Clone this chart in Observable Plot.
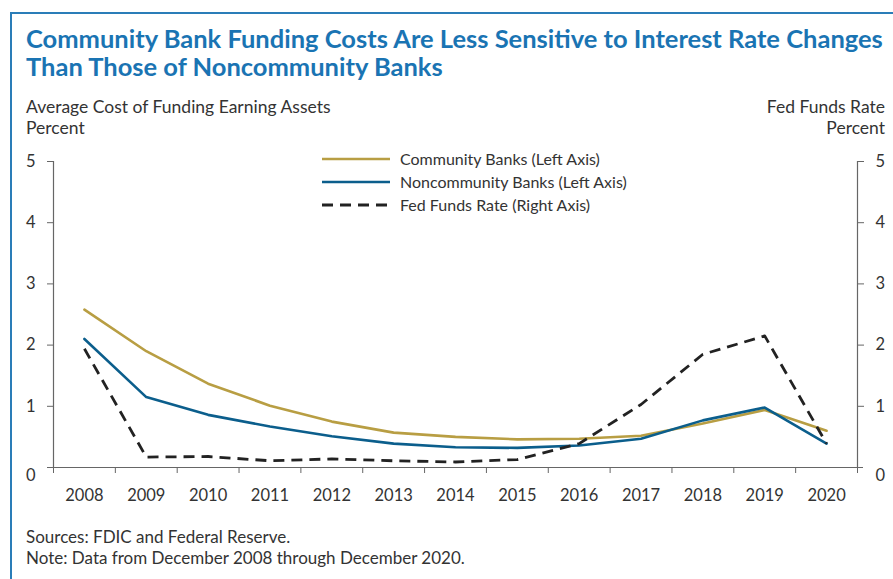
<!DOCTYPE html>
<html>
<head>
<meta charset="utf-8">
<script src="https://cdn.jsdelivr.net/npm/d3@7"></script>
<script src="https://cdn.jsdelivr.net/npm/@observablehq/plot@0.6"></script>
<style>
  html, body { margin: 0; padding: 0; background: #fff; }
  body { width: 893px; height: 579px; position: relative; overflow: hidden; font-family: Lato, "Open Sans", sans-serif; color: #333; }
  #frame { position: absolute; left: 10px; top: 12px; width: 900px; height: 600px; border-left: 2px solid #2a7db8; border-top: 2px solid #2a7db8; }
  #title { position: absolute; left: 26px; top: 24px; font-size: 25.5px; font-weight: 700; line-height: 28px; color: #1a74b3; white-space: nowrap; }
  .axlab { position: absolute; top: 96px; font-size: 17.5px; line-height: 21px; color: #333; white-space: nowrap; }
  #ylab-left { left: 26px; }
  #ylab-right { right: 8px; text-align: right; }
  #chart { position: absolute; left: 0; top: 140px; }
  #legend { position: absolute; left: 322px; top: 147px; font-size: 16px; line-height: 23px; color: #333; }
  #legend .row { display: flex; align-items: center; height: 23px; }
  #legend svg { margin-right: 10px; }
  #footer { position: absolute; left: 26px; top: 526px; font-size: 17px; line-height: 21px; color: #333; white-space: nowrap; }
</style>
</head>
<body>
<div id="frame"></div>
<div id="title"></div>
<div id="ylab-left" class="axlab"></div>
<div id="ylab-right" class="axlab"></div>
<div id="chart"></div>
<div id="legend"></div>
<div id="footer"></div>
<script>
// ---- Data ----
const years = [2008, 2009, 2010, 2011, 2012, 2013, 2014, 2015, 2016, 2017, 2018, 2019, 2020];
const community    = [2.58, 1.90, 1.37, 1.01, 0.75, 0.57, 0.50, 0.46, 0.47, 0.52, 0.72, 0.94, 0.60];
const noncommunity = [2.10, 1.15, 0.86, 0.67, 0.51, 0.39, 0.33, 0.32, 0.36, 0.47, 0.77, 0.98, 0.39];
const fedFunds     = [1.94, 0.17, 0.18, 0.11, 0.14, 0.11, 0.09, 0.13, 0.39, 1.03, 1.85, 2.15, 0.39];
const leftTicks  = [0, 1, 2, 3, 4, 5];
const rightTicks = [0, 1, 2, 3, 4, 5];
const seriesNames  = ["Community Banks (Left Axis)", "Noncommunity Banks (Left Axis)", "Fed Funds Rate (Right Axis)"];
const seriesColors = ["#b89e43", "#0b5e8c", "#222222"];
const titleLines = ["Community Bank Funding Costs Are Less Sensitive to Interest Rate Changes", "Than Those of Noncommunity Banks"];
const leftAxisTitle  = ["Average Cost of Funding Earning Assets", "Percent"];
const rightAxisTitle = ["Fed Funds Rate", "Percent"];
const footerLines = ["Sources: FDIC and Federal Reserve.", "Note: Data from December 2008 through December 2020."];

// ---- Text blocks ----
const setLines = (id, lines) => {
  const el = document.getElementById(id);
  lines.forEach((t, i) => { if (i) el.appendChild(document.createElement("br")); el.appendChild(document.createTextNode(t)); });
};
setLines("title", titleLines);
setLines("ylab-left", leftAxisTitle);
setLines("ylab-right", rightAxisTitle);
setLines("footer", footerLines);

// ---- Chart ----
const rows = vals => years.map((year, i) => ({year, value: vals[i]}));
const bounds = [years[0] - 0.5, years[years.length - 1] + 0.5];
const boundaryTicks = d3.range(bounds[0], bounds[1] + 0.001, 1);
const axisColor = "#666";
const dash = "11,7";
const fmt = d => String(d);

const chart = Plot.plot({
  width: 893,
  height: 375,
  marginTop: 21,
  marginBottom: 48,
  marginLeft: 53,
  marginRight: 36,
  style: {fontFamily: "Lato, 'Open Sans', sans-serif", fontSize: "16.5px", color: "#333", background: "transparent", overflow: "visible"},
  x: {domain: bounds, label: null},
  y: {domain: [leftTicks[0], leftTicks[leftTicks.length - 1]], label: null},
  marks: [
    Plot.ruleX(bounds, {y1: leftTicks[0], y2: leftTicks[leftTicks.length - 1], stroke: axisColor, strokeWidth: 1.2}),
    Plot.ruleY([0], {x1: bounds[0], x2: bounds[1], insetLeft: -6, insetRight: -6, stroke: axisColor, strokeWidth: 1.2}),
    Plot.axisX(boundaryTicks, {tickSize: 6, tickFormat: () => "", stroke: axisColor, label: null}),
    Plot.axisX(years, {tickSize: 0, tickPadding: 22, tickFormat: fmt, fill: "#333", label: null}),
    Plot.axisY(leftTicks.filter(d => d > 0), {anchor: "left", tickSize: 6, tickPadding: 12, tickFormat: fmt, stroke: axisColor, fill: "#333", label: null}),
    Plot.axisY(leftTicks.filter(d => d === 0), {anchor: "left", tickSize: 0, tickPadding: 18, tickFormat: fmt, dy: 8, fill: "#333", label: null}),
    Plot.axisY(rightTicks.filter(d => d > 0), {anchor: "right", tickSize: 6, tickPadding: 12, tickFormat: fmt, stroke: axisColor, fill: "#333", label: null}),
    Plot.axisY(rightTicks.filter(d => d === 0), {anchor: "right", tickSize: 0, tickPadding: 18, tickFormat: fmt, dy: 8, fill: "#333", label: null}),
    Plot.lineY(rows(community), {x: "year", y: "value", stroke: seriesColors[0], strokeWidth: 2.6}),
    Plot.lineY(rows(noncommunity), {x: "year", y: "value", stroke: seriesColors[1], strokeWidth: 2.6}),
    Plot.lineY(rows(fedFunds), {x: "year", y: "value", stroke: seriesColors[2], strokeWidth: 2.8, strokeDasharray: dash, strokeLinecap: "butt"})
  ]
});
document.getElementById("chart").appendChild(chart);

// ---- Legend ----
const legend = document.getElementById("legend");
seriesNames.forEach((name, i) => {
  const row = document.createElement("div");
  row.className = "row";
  const isDash = i === 2;
  row.innerHTML = `<svg width="68" height="6"><line x1="0" x2="68" y1="3" y2="3" stroke="${seriesColors[i]}" stroke-width="${isDash ? 2.8 : 2.6}" ${isDash ? `stroke-dasharray="${dash}"` : ""}/></svg><span>${name}</span>`;
  legend.appendChild(row);
});
</script>
</body>
</html>
